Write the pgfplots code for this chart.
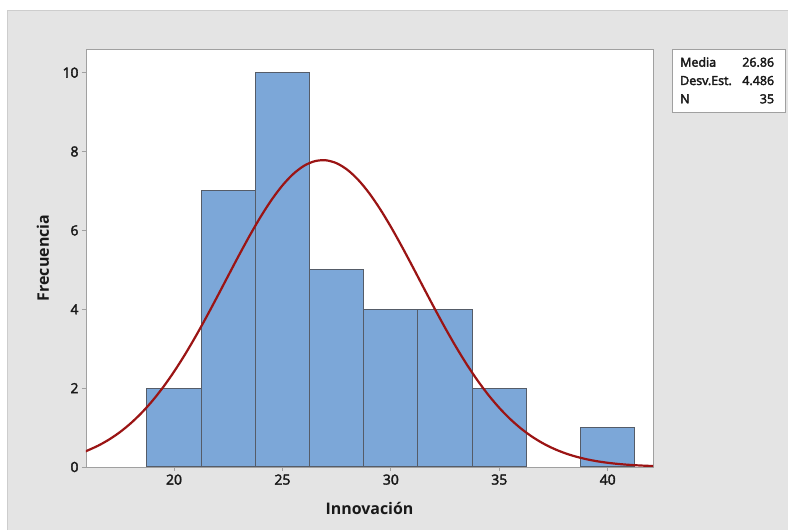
\documentclass[border=0pt]{standalone}
\usepackage{pgfplots}
\pgfplotsset{compat=1.18}
\usepackage{fontspec}
\setmainfont{Open Sans}
\newcommand\semi[1]{\special{pdf:literal direct 2 Tr 0.35 w}#1\special{pdf:literal direct 0 Tr}}
\definecolor{bg}{RGB}{228,228,228}
\definecolor{bgborder}{RGB}{205,205,205}
\definecolor{axgray}{RGB}{160,160,160}
\definecolor{barfill}{RGB}{124,167,216}
\definecolor{baredge}{RGB}{85,92,104}
\definecolor{curve}{RGB}{155,20,20}
\definecolor{ticktext}{RGB}{25,25,25}
\begin{document}
\begin{tikzpicture}[x=1bp,y=1bp]
\useasboundingbox (-86,-63) rectangle (702,467);
\fill[bg] (-78,-63) rectangle (702,456);
\draw[bgborder,line width=1bp] (-78,-63) -- (-78,456) -- (702,456);
\begin{axis}[
  at={(0,0)}, anchor=south west,
  scale only axis, width=567bp, height=418bp,
  xmin=15.94, xmax=42.09, ymin=0, ymax=10.6,
  axis background/.style={fill=white},
  axis line style={draw=axgray, line width=0.9bp},
  xtick={20,25,30,35,40}, ytick={0,2,4,6,8,10},
  tick align=outside, tick pos=left, major tick length=4bp,
  tick style={axgray, line width=0.9bp},
  ticklabel style={font=\fontsize{14}{16}\selectfont, text=ticktext},
  xticklabel={\semi{\pgfmathprintnumber{\tick}}},
  yticklabel={\semi{\pgfmathprintnumber{\tick}}},
  /pgf/number format/assume math mode=true,
  xlabel={Innovación}, ylabel={Frecuencia},
  label style={font=\bfseries\fontsize{16}{19}\selectfont, text=ticktext},
  xlabel style={at={(axis description cs:0.5,-0.0981)}, anchor=center},
  ylabel style={at={(axis description cs:-0.0758,0.5)}, anchor=center},
]
\addplot[ybar interval, fill=barfill, draw=baredge, line width=1bp]
  coordinates {(18.75,2) (21.25,7) (23.75,10) (26.25,5) (28.75,4) (31.25,4) (33.75,2) (36.25,2)};
\addplot[ybar interval, fill=barfill, draw=baredge, line width=1bp]
  coordinates {(38.75,1) (41.25,1)};
\addplot[curve, line width=2.2bp, smooth, no marks] coordinates {
(15.9,0.393) (16,0.4154) (16.5,0.5406) (17,0.6950) (17.5,0.8824) (18,1.1067) (18.5,1.3707)
(19,1.6765) (19.5,2.0256) (20,2.4169) (20.5,2.8483) (21,3.3152) (21.5,3.8111)
(22,4.3268) (22.5,4.8522) (23,5.3737) (23.5,5.8778) (24,6.3503) (24.5,6.7757)
(25,7.1402) (25.5,7.4316) (26,7.6396) (26.5,7.7562) (27,7.7775) (27.5,7.7025)
(28,7.5340) (28.5,7.2783) (29,6.9444) (29.5,6.5440) (30,6.0907) (30.5,5.5987)
(31,5.0829) (31.5,4.5574) (32,4.0363) (32.5,3.5304) (33,3.0497) (33.5,2.6018)
(34,2.1926) (34.5,1.8248) (35,1.5001) (35.5,1.2179) (36,0.9763) (36.5,0.7732)
(37,0.6048) (37.5,0.4672) (38,0.3565) (38.5,0.2686) (39,0.1999) (39.5,0.1469)
(40,0.1067) (40.5,0.0765) (41,0.0542) (41.5,0.0379) (42,0.0262) (42.1,0.0244)
};
\end{axis}
\draw[axgray, fill=white, line width=1bp] (586.7,354.7) rectangle (699,417.7);
\begin{scope}[every node/.style={font=\fontsize{12.5}{14}\selectfont, text=ticktext, inner sep=0pt}]
\node[anchor=base west] at (594,400.3) {\semi{Media}};
\node[anchor=base west] at (594,382) {\semi{Desv.Est.}};
\node[anchor=base west] at (594,363.7) {\semi{N}};
\node[anchor=base east] at (688.3,400.3) {\semi{26.86}};
\node[anchor=base east] at (688.3,382) {\semi{4.486}};
\node[anchor=base east] at (688.3,363.7) {\semi{35}};
\end{scope}
\end{tikzpicture}
\end{document}
